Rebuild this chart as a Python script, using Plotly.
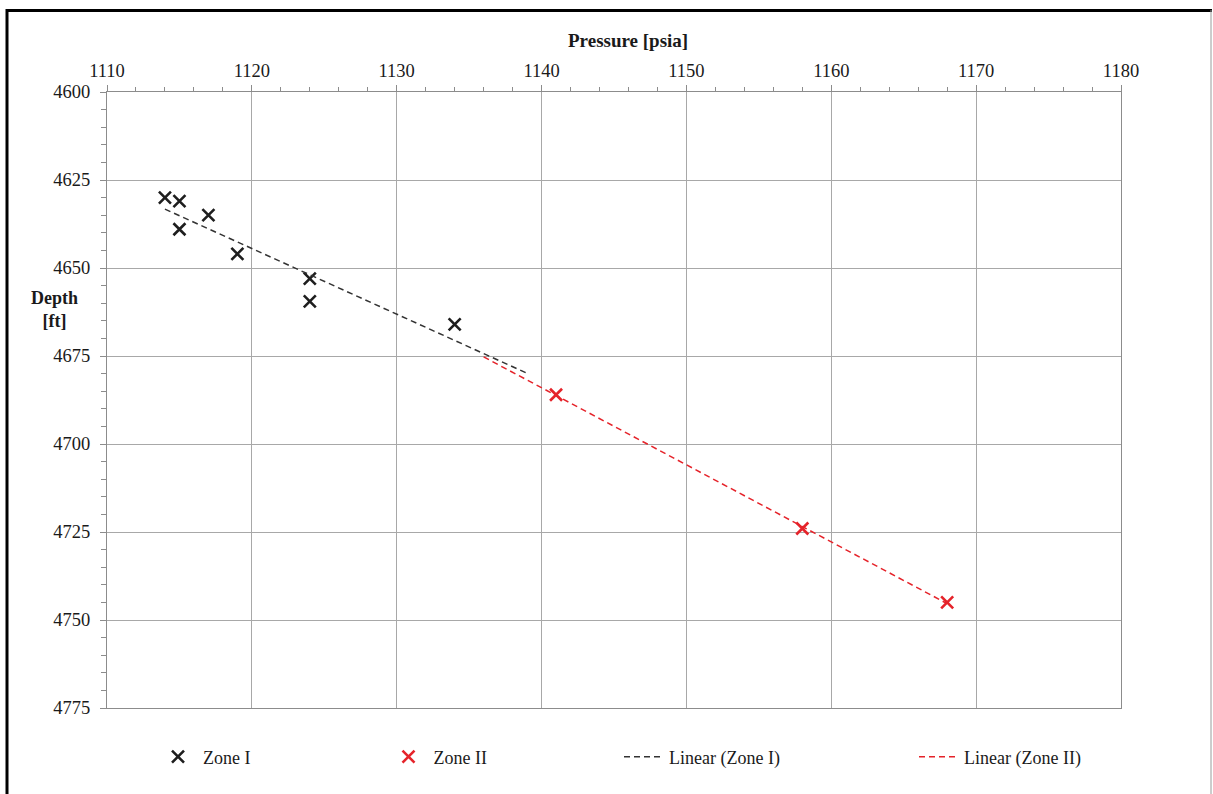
import numpy as np
import plotly.graph_objects as go

# ---- data ----
zone1_pressure = [1114, 1115, 1115, 1117, 1119, 1124, 1124, 1134]
zone1_depth = [4630, 4631, 4639, 4635, 4646, 4653, 4659.5, 4666]
zone2_pressure = [1141, 1158, 1168]
zone2_depth = [4686, 4724, 4745]
x_ticks = [1110, 1120, 1130, 1140, 1150, 1160, 1170, 1180]
y_ticks = [4600, 4625, 4650, 4675, 4700, 4725, 4750, 4775]

# Excel-style linear trendlines (zone I forecast forward 5, zone II backward 5)
s1, b1 = np.polyfit(zone1_pressure, zone1_depth, 1)
s2, b2 = np.polyfit(zone2_pressure, zone2_depth, 1)
t1x = [min(zone1_pressure), max(zone1_pressure) + 5]
t2x = [min(zone2_pressure) - 5, max(zone2_pressure)]
t1y = [s1 * v + b1 for v in t1x]
t2y = [s2 * v + b2 for v in t2x]

FONT = "Liberation Serif"
BLACK = "#1e1e1e"
RED = "#e5232a"
TXT = "#1a1a1a"

L, R, T, B = 107, 92, 92, 86
W, H = 1213, 794
PW, PH = W - L - R, H - T - B


def xp(px):
    return (px - L) / PW


def yp(py):
    return (H - B - py) / PH


fig = go.Figure()
fig.add_trace(go.Scatter(
    x=zone1_pressure, y=zone1_depth, mode="markers", name="Zone I",
    marker=dict(symbol="x-thin", size=12, color=BLACK, line=dict(width=2.6, color=BLACK)),
    legend="legend"))
fig.add_trace(go.Scatter(
    x=zone2_pressure, y=zone2_depth, mode="markers", name="Zone II",
    marker=dict(symbol="x-thin", size=12, color=RED, line=dict(width=2.6, color=RED)),
    legend="legend2"))
fig.add_trace(go.Scatter(
    x=t1x, y=t1y, mode="lines", name="Linear (Zone I)",
    line=dict(color="#333333", width=1.5, dash="6px,4px"),
    legend="legend3"))
fig.add_trace(go.Scatter(
    x=t2x, y=t2y, mode="lines", name="Linear (Zone II)",
    line=dict(color=RED, width=1.5, dash="6px,4px"),
    legend="legend4"))

leg_common = dict(orientation="h", yanchor="middle", xanchor="left",
                  itemwidth=40,
                  font=dict(family=FONT, size=18, color=TXT),
                  bgcolor="rgba(0,0,0,0)", borderwidth=0)
ly = yp(757)

fig.update_layout(
    width=W, height=H,
    margin=dict(l=L, r=R, t=T, b=B),
    paper_bgcolor="white", plot_bgcolor="white",
    font=dict(family=FONT, size=18, color=TXT),
    showlegend=True,
    legend=dict(x=xp(153), y=ly, **leg_common),
    legend2=dict(x=xp(383.5), y=ly, **leg_common),
    legend3=dict(x=xp(619), y=ly, **leg_common),
    legend4=dict(x=xp(914), y=ly, **leg_common),
    xaxis=dict(
        side="top", range=[1110, 1180], tickvals=x_ticks,
        ticktext=[str(v) for v in x_ticks],
        showgrid=True, gridcolor="#a8a8a8", gridwidth=1,
        showline=True, linecolor="#8c8c8c", linewidth=1.3, mirror=True,
        ticks="outside", ticklen=6, tickcolor="#8c8c8c",
        tickfont=dict(family=FONT, size=18.5, color=TXT),
        minor=dict(dtick=2, ticks="outside", ticklen=4, tickcolor="#8c8c8c", showgrid=False),
        zeroline=False,
    ),
    yaxis=dict(
        range=[4775, 4600], tickvals=y_ticks,
        ticktext=[str(v) for v in y_ticks],
        showgrid=True, gridcolor="#a8a8a8", gridwidth=1,
        showline=True, linecolor="#8c8c8c", linewidth=1.3, mirror=True,
        ticks="outside", ticklen=6, tickcolor="#8c8c8c",
        ticklabelstandoff=6,
        tickfont=dict(family=FONT, size=18.5, color=TXT),
        minor=dict(dtick=5, ticks="outside", ticklen=5, tickcolor="#8c8c8c", showgrid=False),
        zeroline=False,
    ),
    annotations=[
        dict(text="<b>Pressure [psia]</b>", xref="paper", yref="paper",
             x=xp(627.5), y=yp(41), xanchor="center", yanchor="middle",
             showarrow=False, font=dict(family=FONT, size=19, color=TXT)),
        dict(text="<b>Depth<br>[ft]</b>", xref="paper", yref="paper",
             x=xp(54), y=yp(309), xanchor="center", yanchor="middle",
             showarrow=False, font=dict(family=FONT, size=18, color=TXT)),
    ],
    shapes=[
        dict(type="line", xref="paper", yref="paper", x0=xp(7), x1=xp(7),
             y0=yp(9), y1=yp(800), line=dict(color="black", width=3)),
        dict(type="line", xref="paper", yref="paper", x0=xp(6), x1=xp(1212),
             y0=yp(10.5), y1=yp(10.5), line=dict(color="black", width=3)),
        dict(type="line", xref="paper", yref="paper", x0=xp(1211), x1=xp(1211),
             y0=yp(10), y1=yp(800), line=dict(color="#9a9a9a", width=1)),
    ],
)

fig.write_html("out.html")
